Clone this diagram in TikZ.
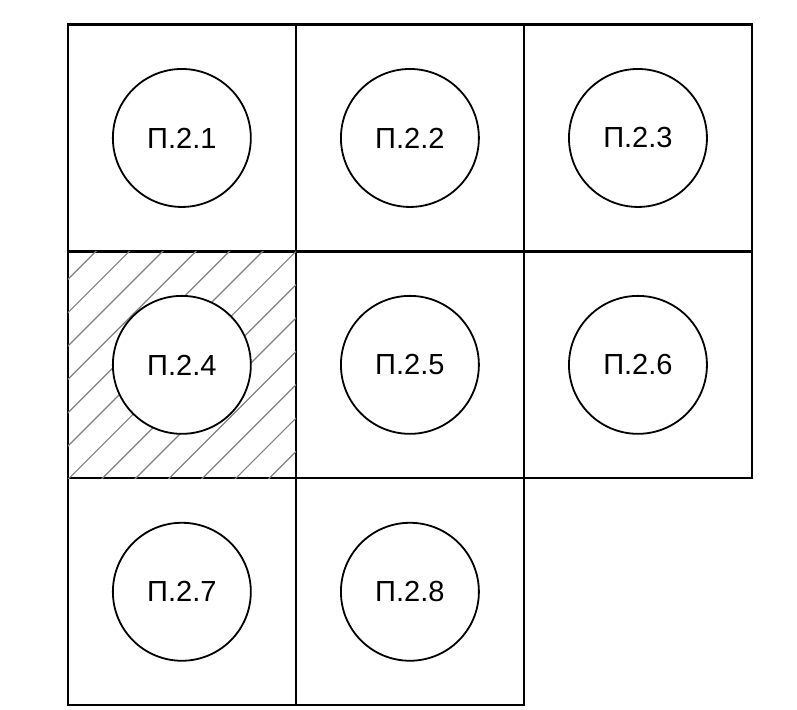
\documentclass[tikz,border=0pt]{standalone}
\usepackage{fontspec}
\setmainfont{Liberation Sans}
\tikzset{
  cell/.style={draw,line width=1.1pt,minimum width=4cm,minimum height=3.98cm,inner sep=0pt},
  hole/.style={circle,draw,line width=0.9pt,fill=white,minimum size=2.42cm,inner sep=0pt,font=\fontsize{14.5}{17}\selectfont},
  hatch/.style={black!50,line width=0.6pt}
}
\begin{document}
\begin{tikzpicture}
\useasboundingbox (-1.19,-0.07) rectangle (12.79,12.37);
\def\hstep{0.585}
\foreach \n/\x/\y in {1/0/2,2/1/2,3/2/2,4/0/1,5/1/1,6/2/1,7/0/0,8/1/0}
  \node[cell] (c\n) at (4*\x+2,3.98*\y+1.99) {};
% hatched cell
\begin{scope}
\clip ([shift={(0.02,0.02)}]c4.south west) rectangle ([shift={(-0.02,-0.02)}]c4.north east);
\foreach \k in {-1,...,14}
  \draw[hatch] ([shift={(0.53+\hstep*\k-5,-5)}]c4.north west) -- ++(6,6);
\end{scope}
\foreach \n in {1,...,8}
  \node[hole] (p\n) at (c\n) {П.2.\n};
\end{tikzpicture}
\end{document}
